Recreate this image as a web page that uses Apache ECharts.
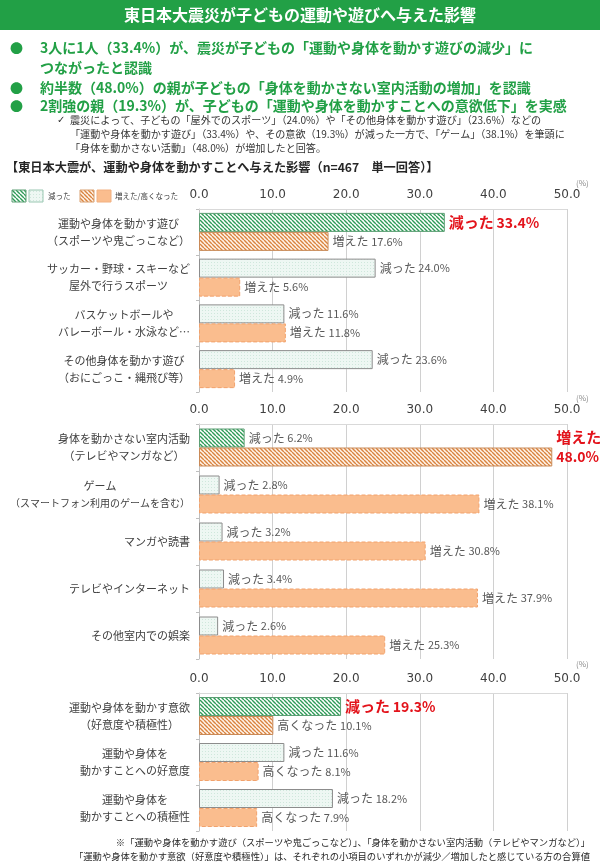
<!DOCTYPE html>
<html><head><meta charset="utf-8">
<script src="https://cdn.jsdelivr.net/npm/echarts@6/dist/echarts.min.js"></script>
<style>html,body{margin:0;padding:0;background:#fff}#c{width:600px;height:866px}</style>
</head><body><div id="c"></div>
<script>
// ---- data ----
const cats1 = ['運動や身体を動かす遊び\n（スポーツや鬼ごっこなど）', 'サッカー・野球・スキーなど\n屋外で行うスポーツ', 'バスケットボールや\nバレーボール・水泳など…', 'その他身体を動かす遊び\n（おにごっこ・縄飛び等）'];
const dec1 = [33.4, 24.0, 11.6, 23.6];
const inc1 = [17.6, 5.6, 11.8, 4.9];
const cats2 = ['身体を動かさない室内活動\n（テレビやマンガなど）', 'ゲーム\n（スマートフォン利用のゲームを含む）', 'マンガや読書', 'テレビやインターネット', 'その他室内での娯楽'];
const dec2 = [6.2, 2.8, 3.2, 3.4, 2.6];
const inc2 = [48.0, 38.1, 30.8, 37.9, 25.3];
const cats3 = ['運動や身体を動かす意欲\n（好意度や積極性）', '運動や身体を\n動かすことへの好意度', '運動や身体を\n動かすことへの積極性'];
const dec3 = [19.3, 11.6, 18.2];
const inc3 = [10.1, 8.1, 7.9];
const xTicks = [0, 10, 20, 30, 40, 50];

const FONT = '"Noto Sans CJK JP", "Noto Sans", sans-serif';
const RED = '#e3131b';
const GREENHEAD = '#22a046';

function stripe(fg, bg) {
  const c = document.createElement('canvas'); c.width = 4; c.height = 4;
  const g = c.getContext('2d');
  g.fillStyle = bg; g.fillRect(0, 0, 4, 4);
  g.strokeStyle = fg; g.lineWidth = 1.4; g.beginPath();
  for (let k = -1; k <= 1; k++) { g.moveTo(k * 4, 0); g.lineTo(k * 4 + 4, 4); }
  g.stroke(); return c;
}
function dots(fg, bg) {
  const c = document.createElement('canvas'); c.width = 3; c.height = 3;
  const g = c.getContext('2d');
  g.fillStyle = bg; g.fillRect(0, 0, 3, 3);
  g.fillStyle = fg; g.fillRect(1, 1, 1, 1); return c;
}
const GS = { image: stripe('#2e9b57', '#ffffff'), repeat: 'repeat' };
const OS = { image: stripe('#d9833e', '#fff4ea'), repeat: 'repeat' };
const MD = { image: dots('#cfe7dc', '#eef7f3'), repeat: 'repeat' };

const styles = {
  decHL: { color: GS, borderColor: '#5c9f74', borderWidth: 1 },
  incHL: { color: OS, borderColor: '#c98a58', borderWidth: 1 },
  dec: { color: MD, borderColor: '#8c8c8c', borderWidth: 1 },
  inc: { color: '#fabd8e', borderColor: '#f2a26c', borderWidth: 1, borderType: 'dashed' }
};
const grayRich = {
  a: { fontSize: 12, color: '#595959', fontFamily: FONT },
  b: { fontSize: 11, color: '#595959', fontFamily: FONT }
};
const redRich = {
  a: { fontSize: 15, color: RED, fontWeight: 'bold', fontFamily: FONT, lineHeight: 20 },
  b: { fontSize: 14, color: RED, fontWeight: 'bold', fontFamily: FONT, lineHeight: 20 }
};

function series(gi, values, word, kind, redIdx, twoLine) {
  return {
    type: 'bar', xAxisIndex: gi, yAxisIndex: gi, barWidth: 19, barGap: '0%', barCategoryGap: 8,
    animation: false,
    data: values.map((v, i) => {
      const item = { value: v, itemStyle: i === 0 ? styles[kind + 'HL'] : styles[kind] };
      if (i === redIdx) {
        item.label = {
          show: true, position: 'right', distance: 4, rich: redRich,
          offset: twoLine ? [0, -10] : [0, 0],
          formatter: p => '{a|' + word + '}' + (twoLine ? '\n' : ' ') + '{b|' + p.value.toFixed(1) + '%}'
        };
      }
      return item;
    }),
    label: {
      show: true, position: 'right', distance: 4, rich: grayRich,
      formatter: p => '{a|' + word + '} {b|' + p.value.toFixed(1) + '%}'
    }
  };
}

const grids = [
  { left: 199, width: 368, top: 209, height: 183, containLabel: false, outerBoundsMode: 'none' },
  { left: 199, width: 368, top: 424, height: 235, containLabel: false, outerBoundsMode: 'none' },
  { left: 199, width: 368, top: 693, height: 138, containLabel: false, outerBoundsMode: 'none' }
];
const cats = [cats1, cats2, cats3];

const option = {
  animation: false,
  textStyle: { fontFamily: FONT },
  grid: grids,
  xAxis: grids.map((g, i) => ({
    gridIndex: i, type: 'value', position: 'top', min: xTicks[0], max: xTicks[xTicks.length - 1],
    interval: xTicks[1] - xTicks[0],
    axisLabel: { margin: 8, fontSize: 12, color: '#404040', fontFamily: '"DejaVu Sans", sans-serif', formatter: v => v.toFixed(1) },
    axisLine: { show: true, lineStyle: { color: '#d9d9d9' } },
    axisTick: { show: false },
    splitLine: { show: true, lineStyle: { color: '#d0d0d0' } }
  })),
  yAxis: grids.map((g, i) => ({
    gridIndex: i, type: 'category', inverse: true, data: cats[i],
    axisLine: { show: true, lineStyle: { color: '#bfbfbf' } },
    axisTick: { show: true, length: 3, lineStyle: { color: '#bfbfbf' } },
    axisLabel: {
      margin: 9, color: '#404040', fontSize: 11, lineHeight: 17,
      formatter: v => v.split('\n').map(l => (l.length > 16 ? '{s|' : '{c|') + l + '}').join('\n'),
      rich: {
        c: { align: 'center', fontSize: 11, color: '#404040', lineHeight: 17, fontFamily: FONT },
        s: { align: 'center', fontSize: 10, color: '#404040', lineHeight: 17, fontFamily: FONT }
      }
    }
  })),
  series: [
    series(0, dec1, '減った', 'dec', 0, false),
    series(0, inc1, '増えた', 'inc', -1, false),
    series(1, dec2, '減った', 'dec', -1, false),
    series(1, inc2, '増えた', 'inc', 0, true),
    series(2, dec3, '減った', 'dec', 0, false),
    series(2, inc3, '高くなった', 'inc', -1, false)
  ],
  graphic: [
    { type: 'rect', left: 0, top: 0, shape: { width: 600, height: 30 }, style: { fill: GREENHEAD } },
    { type: 'text', x: 300, y: 15, style: { text: '東日本大震災が子どもの運動や遊びへ与えた影響', fill: '#fff', font: 'bold 16px ' + FONT, textAlign: 'center', textVerticalAlign: 'middle' } },
    { type: 'text', x: 10, y: 48, style: { text: '●', fill: GREENHEAD, font: '13px ' + FONT, textVerticalAlign: 'middle' } },
    { type: 'text', x: 10, y: 88, style: { text: '●', fill: GREENHEAD, font: '13px ' + FONT, textVerticalAlign: 'middle' } },
    { type: 'text', x: 10, y: 106, style: { text: '●', fill: GREENHEAD, font: '13px ' + FONT, textVerticalAlign: 'middle' } },
    { type: 'text', x: 40, y: 48, style: { text: '3人に1人（33.4%）が、震災が子どもの「運動や身体を動かす遊びの減少」に', fill: GREENHEAD, font: 'bold 14px ' + FONT, textVerticalAlign: 'middle' } },
    { type: 'text', x: 40, y: 68, style: { text: 'つながったと認識', fill: GREENHEAD, font: 'bold 14px ' + FONT, textVerticalAlign: 'middle' } },
    { type: 'text', x: 40, y: 88, style: { text: '約半数（48.0%）の親が子どもの「身体を動かさない室内活動の増加」を認識', fill: GREENHEAD, font: 'bold 14px ' + FONT, textVerticalAlign: 'middle' } },
    { type: 'text', x: 40, y: 106, style: { text: '2割強の親（19.3%）が、子どもの「運動や身体を動かすことへの意欲低下」を実感', fill: GREENHEAD, font: 'bold 14px ' + FONT, textVerticalAlign: 'middle' } },
    { type: 'text', x: 57, y: 120, style: { text: '✓', fill: '#333', font: '10px "DejaVu Sans"', textVerticalAlign: 'middle' } },
    { type: 'text', x: 70, y: 120, style: { text: '震災によって、子どもの「屋外でのスポーツ」（24.0%）や「その他身体を動かす遊び」（23.6%）などの', fill: '#333', font: '10.1px ' + FONT, textVerticalAlign: 'middle' } },
    { type: 'text', x: 70, y: 134, style: { text: '「運動や身体を動かす遊び」（33.4%）や、その意欲（19.3%）が減った一方で、「ゲーム」（38.1%）を筆頭に', fill: '#333', font: '10.1px ' + FONT, textVerticalAlign: 'middle' } },
    { type: 'text', x: 70, y: 148, style: { text: '「身体を動かさない活動」（48.0%）が増加したと回答。', fill: '#333', font: '10.1px ' + FONT, textVerticalAlign: 'middle' } },
    { type: 'text', x: 6, y: 167, style: { text: '【東日本大震が、運動や身体を動かすことへ与えた影響（n=467　単一回答）】', fill: '#262626', font: 'bold 12.2px ' + FONT, textVerticalAlign: 'middle' } },
    // legend
    { type: 'rect', x: 12, y: 190, shape: { width: 14, height: 12 }, style: { fill: GS, stroke: '#5c9f74', lineWidth: 1 } },
    { type: 'rect', x: 29, y: 190, shape: { width: 14, height: 12 }, style: { fill: MD, stroke: '#9ac7b2', lineWidth: 1 } },
    { type: 'text', x: 48, y: 196, style: { text: '減った', fill: '#404040', font: '7.5px ' + FONT, textVerticalAlign: 'middle' } },
    { type: 'rect', x: 80, y: 190, shape: { width: 14, height: 12 }, style: { fill: OS, stroke: '#d9a070', lineWidth: 1 } },
    { type: 'rect', x: 97, y: 190, shape: { width: 14, height: 12 }, style: { fill: '#fabd8e', stroke: '#f2b080', lineWidth: 1 } },
    { type: 'text', x: 115, y: 196, style: { text: '増えた/高くなった', fill: '#404040', font: '7.5px ' + FONT, textVerticalAlign: 'middle' } },
    { type: 'text', x: 576, y: 183, style: { text: '(%)', fill: '#8c8c8c', font: '8px ' + FONT, textVerticalAlign: 'middle' } },
    { type: 'text', x: 576, y: 398, style: { text: '(%)', fill: '#8c8c8c', font: '8px ' + FONT, textVerticalAlign: 'middle' } },
    { type: 'text', x: 576, y: 664, style: { text: '(%)', fill: '#8c8c8c', font: '8px ' + FONT, textVerticalAlign: 'middle' } },
    { type: 'text', x: 590, y: 842, style: { text: '※「運動や身体を動かす遊び（スポーツや鬼ごっこなど）」、「身体を動かさない室内活動（テレビやマンガなど）」', fill: '#262626', font: '9.3px ' + FONT, textAlign: 'right', textVerticalAlign: 'middle' } },
    { type: 'text', x: 590, y: 856, style: { text: '「運動や身体を動かす意欲（好意度や積極性）」は、それぞれの小項目のいずれかが減少／増加したと感じている方の合算値', fill: '#262626', font: '9.3px ' + FONT, textAlign: 'right', textVerticalAlign: 'middle' } }
  ]
};
const chart = echarts.init(document.getElementById('c'), null, { renderer: 'canvas' });
chart.setOption(option);
</script></body></html>
